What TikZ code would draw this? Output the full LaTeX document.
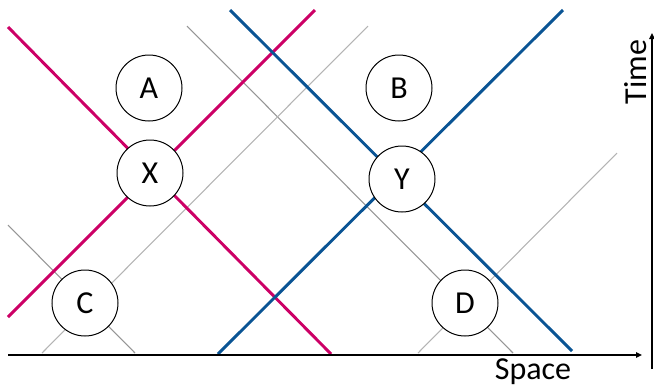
\documentclass[tikz,border=0pt]{standalone}
\usepackage{fontspec}
\setmainfont{Carlito}
\usetikzlibrary{arrows.meta}
\definecolor{mag}{RGB}{204,0,102}
\definecolor{blu}{RGB}{10,84,148}
\definecolor{gdark}{RGB}{150,150,150}
\definecolor{glight}{RGB}{180,180,180}
\begin{document}
\begin{tikzpicture}[x=0.75pt,y=-0.75pt,
  ev/.style={circle,draw=black,line width=0.75pt,fill=white,minimum size=66*0.75pt,inner sep=0pt,font=\fontsize{24}{28}\selectfont},
  wl/.style={line width=2.2pt},
  gl/.style={line width=0.8pt},
  axis/.style={line width=1.5pt,-{Triangle[length=4.5pt,width=4pt]}},
  lab/.style={font=\fontsize{24}{28}\selectfont,inner sep=0pt}]
\useasboundingbox (0,0) rectangle (654,387);
% coordinates
\coordinate (g1a) at (187,26); \coordinate (g1b) at (513,353);
\coordinate (g2a) at (368,26); \coordinate (g2b) at (42,353);
\coordinate (g3a) at (8,225);  \coordinate (g3b) at (135,353);
\coordinate (g4a) at (617,153); \coordinate (g4b) at (418,353);
\coordinate (m1a) at (8,27);   \coordinate (m1b) at (331,354);
\coordinate (m2a) at (8,317);  \coordinate (m2b) at (315,10);
\coordinate (b1a) at (230,10); \coordinate (b1b) at (572,351);
\coordinate (b2a) at (218,354); \coordinate (b2b) at (563,10);
% gray light rays
\draw[gl,gdark] (g1a) -- (g1b);
\draw[gl,glight] (g2a) -- (g2b);
\draw[gl,gdark] (g3a) -- (g3b);
\draw[gl,glight] (g4a) -- (g4b);
% colored light rays
\draw[wl,mag] (m1a) -- (m1b);
\draw[wl,mag] (m2a) -- (m2b);
\draw[wl,blu] (b1a) -- (b1b);
\draw[wl,blu] (b2a) -- (b2b);
% events
\node[ev] (A) at (149,88) {A};
\node[ev] (B) at (399,88) {B};
\node[ev] (X) at (150,173) {X};
\node[ev] (Y) at (402,179) {Y};
\node[ev] (C) at (85,303) {C};
\node[ev] (D) at (465,303) {D};
% axes
\coordinate (ox) at (8,355); \coordinate (sx) at (642,355);
\coordinate (ty0) at (652,369); \coordinate (ty1) at (652,33);
\draw[axis] (ox) -- (sx);
\draw[axis] (ty0) -- (ty1);
\node[lab] (space) at (533,372) {Space};
\node[lab,rotate=90] (time) at (636,72) {Time};
\end{tikzpicture}
\end{document}
